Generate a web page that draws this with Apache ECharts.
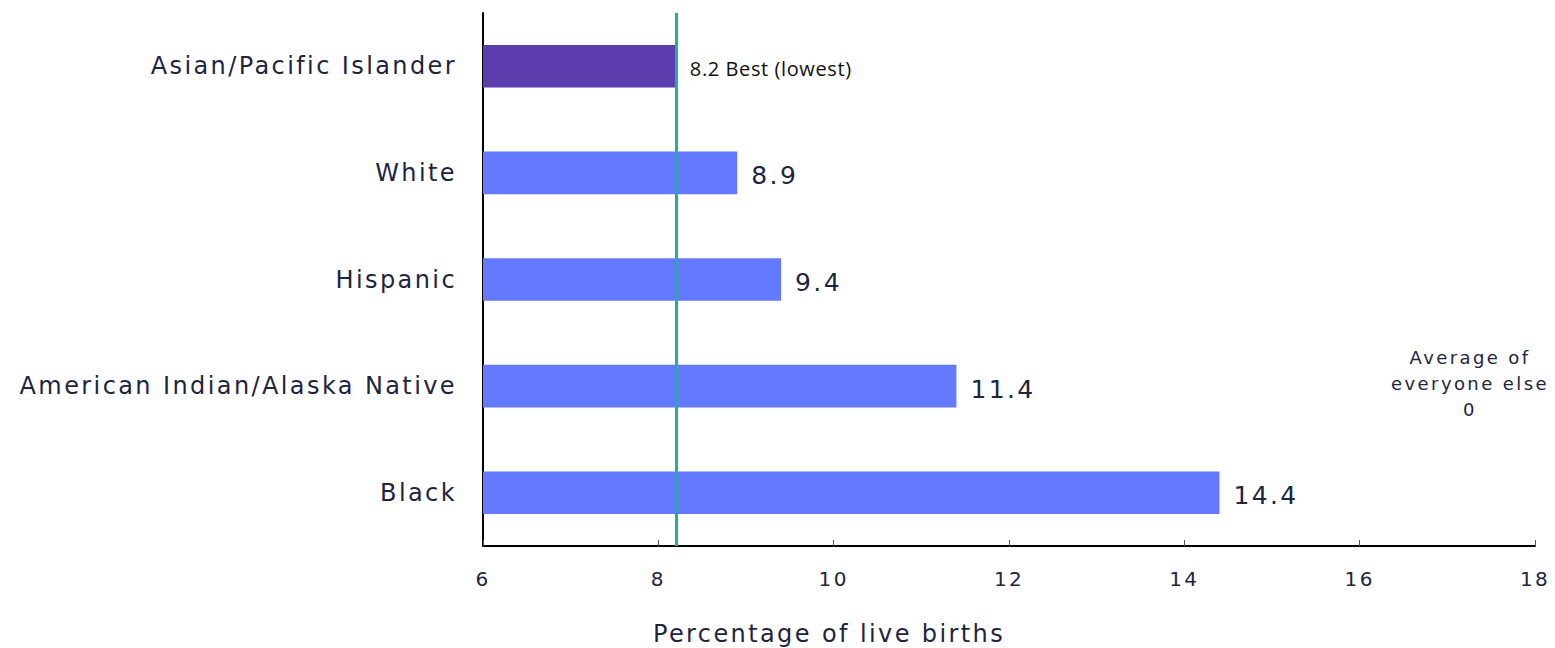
<!DOCTYPE html>
<html>
<head>
<meta charset="utf-8">
<script src="https://cdn.jsdelivr.net/npm/echarts@6/dist/echarts.min.js"></script>
<style>
  html, body { margin: 0; padding: 0; background: #fff; }
  #chart { width: 1555px; height: 648px; }
  /* the source font is a wide sans, stretch DejaVu a bit */
  #chart svg text { letter-spacing: 2.4px; }
  #chart svg text[style*="Open Sans"] { letter-spacing: 0.6px; }
</style>
</head>
<body>
<div id="chart"></div>
<script>
// chart data
const groups = ['Asian/Pacific Islander', 'White', 'Hispanic', 'American Indian/Alaska Native', 'Black']
const rates = [8.2, 8.9, 9.4, 11.4, 14.4]
const bestValue = 8.2
const averageOthers = 0
const xTicks = [6, 8, 10, 12, 14, 16, 18]

const ink = '#1d2541'
const wideFont = 'DejaVu Sans'

const chart = echarts.init(document.getElementById('chart'), null, { renderer: 'svg' })

const seriesData = rates.map((v) => {
  if (v === bestValue) {
    return {
      value: v,
      itemStyle: { color: '#5b3dae' },
      label: {
        formatter: '{c} Best (lowest)',
        fontFamily: 'Open Sans',
        fontSize: 20,
        color: '#111',
        distance: 14,
        offset: [0, 2],
      },
    }
  }
  return v
})

const option = {
  animation: false,
  grid: {
    left: 483,
    right: 20,
    top: 13,
    bottom: 102,
    containLabel: false,
    outerBoundsMode: 'none',
  },
  xAxis: {
    type: 'value',
    min: xTicks[0],
    max: xTicks[xTicks.length - 1],
    interval: 2,
    name: 'Percentage of live births',
    nameLocation: 'middle',
    nameGap: 76,
    nameTextStyle: {
      fontFamily: wideFont,
      fontSize: 24,
      color: ink,
      padding: [0, 360, 0, 0],
    },
    axisLine: { show: true, lineStyle: { color: '#000', width: 2 } },
    axisTick: { show: true, inside: true, length: 6, lineStyle: { color: '#555' } },
    axisLabel: {
      fontFamily: wideFont,
      fontSize: 20,
      color: ink,
      margin: 23,
    },
    splitLine: { show: false },
  },
  yAxis: {
    type: 'category',
    data: groups,
    inverse: true,
    axisLine: { show: true, lineStyle: { color: '#000', width: 2 } },
    axisTick: { show: false },
    axisLabel: {
      fontFamily: wideFont,
      fontSize: 24,
      color: ink,
      margin: 26,
    },
  },
  series: [
    {
      type: 'bar',
      data: seriesData,
      barWidth: '40%',
      itemStyle: { color: '#6379ff' },
      label: {
        show: true,
        position: 'right',
        distance: 14,
        fontFamily: wideFont,
        fontSize: 25,
        color: ink,
        offset: [0, 3],
      },
      markLine: {
        silent: true,
        symbol: 'none',
        label: { show: false },
        lineStyle: { color: '#1fb394', width: 3, type: 'solid' },
        data: [{ xAxis: bestValue }],
      },
    },
  ],
  graphic: [
    {
      type: 'text',
      x: 1470,
      y: 344,
      style: {
        text: 'Average of\neveryone else\n' + averageOthers,
        align: 'center',
        fontFamily: wideFont,
        fontSize: 18,
        lineHeight: 26,
        fill: ink,
      },
    },
  ],
}

chart.setOption(option)
</script>
</body>
</html>
